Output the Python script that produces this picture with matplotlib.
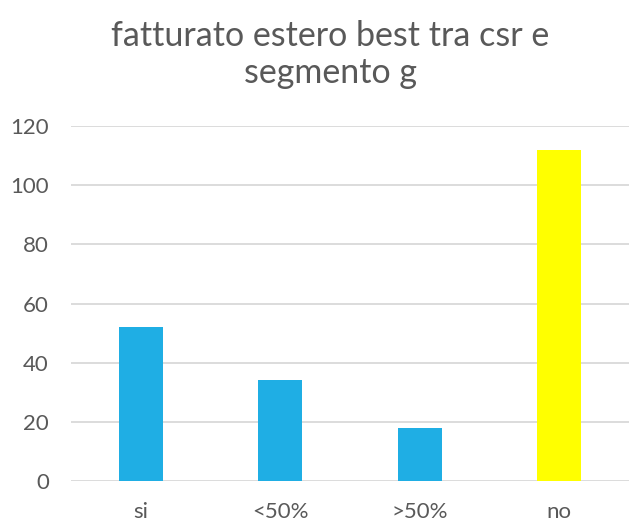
import matplotlib.pyplot as plt

categories = ['si', '<50%', '>50%', 'no']
values = [52, 34, 18, 112]
colors = ['#1FAEE4', '#1FAEE4', '#1FAEE4', '#FFFF00']
yticks = [0, 20, 40, 60, 80, 100, 120]

plt.rcParams['font.family'] = ['Lato', 'DejaVu Sans']

fig = plt.figure(figsize=(6.29, 5.21), dpi=100)
ax = fig.add_axes([71 / 629, 40 / 521, 558 / 629, 355 / 521])

x = range(len(categories))
ax.bar(x, values, width=0.315, color=colors, zorder=3)

ax.set_xlim(-0.5, 3.5)
ax.set_ylim(0, 120)
ax.set_yticks(yticks)
ax.set_xticks(list(x))
ax.set_xticklabels(categories)
ax.yaxis.grid(True, color='#D9D9D9', linewidth=1.3, zorder=0)
for s in ax.spines.values():
    s.set_visible(False)
ax.tick_params(length=0, labelsize=16, colors='#595959')
ax.tick_params(axis='y', pad=16)
ax.tick_params(axis='x', pad=15)

fig.text(0.525, 0.895, 'fatturato estero best tra csr e\nsegmento g', ha='center', va='center',
         fontsize=24.5, color='#595959', linespacing=1.2)

fig.savefig('out.png', dpi=100)
